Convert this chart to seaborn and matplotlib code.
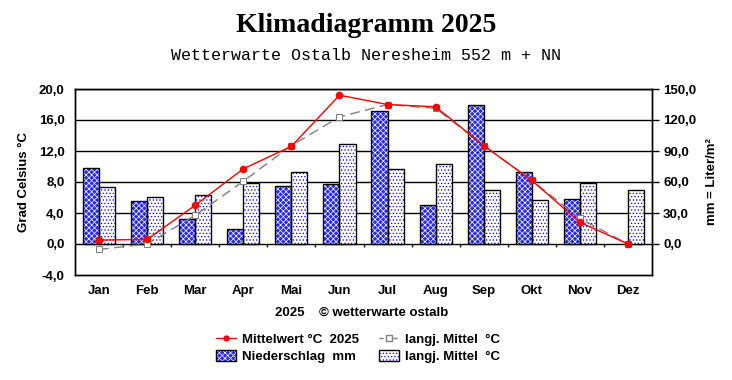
import numpy as np
import pandas as pd
import matplotlib
matplotlib.use("Agg")
import matplotlib.pyplot as plt
import seaborn as sns
from matplotlib.patches import Rectangle, Patch
from matplotlib.lines import Line2D
from matplotlib.legend_handler import HandlerTuple
from matplotlib.ticker import FuncFormatter

# %%
# Data
months = ["Jan", "Feb", "Mar", "Apr", "Mai", "Jun", "Jul", "Aug", "Sep", "Okt", "Nov", "Dez"]
temp_2025 = [0.5, 0.6, 5.0, 9.7, 12.6, 19.2, 18.0, 17.7, 12.7, 8.2, 2.8, 0.0]
temp_longterm = [-0.7, 0.0, 3.7, 8.1, 12.7, 16.4, 18.0, 17.5, 12.7, 8.2, 3.3, 0.0]
precip_2025 = [73.4, 41.4, 24.0, 14.2, 56.0, 57.9, 128.7, 37.5, 134.8, 69.5, 43.6, 0.0]
precip_longterm = [55.0, 45.3, 47.2, 59.5, 69.5, 96.7, 72.4, 77.3, 52.1, 42.4, 59.5, 52.4]

# %%
# Long format table for seaborn
bars = pd.DataFrame({
    "Monat": months * 2,
    "mm": precip_2025 + precip_longterm,
    "Reihe": ["Niederschlag"] * 12 + ["langj"] * 12,
})

sns.set_style("white")
plt.rcParams["font.family"] = ["Liberation Sans", "DejaVu Sans"]
plt.rcParams["hatch.linewidth"] = 0.5
for k in ("text.color", "axes.labelcolor", "xtick.color", "ytick.color", "axes.edgecolor"):
    plt.rcParams[k] = "black"

fig = plt.figure(figsize=(7.32, 3.80), dpi=100)
ax = fig.add_axes([75 / 732, 1 - 275 / 380, 577 / 732, 186 / 380])
ax2 = ax.twinx()

blue = "#0000ff"
dark_face = "#2828ee"
dark_hatch = "xxxxxx"
dot_hatch = "....."

# %%
# Precipitation bars on right axis
sns.barplot(data=bars, x="Monat", y="mm", hue="Reihe", ax=ax2, width=0.67,
            palette=[dark_face, "white"], legend=False, saturation=1, zorder=2)

for i, cont in enumerate(ax2.containers):
    for p in cont.patches:
        if i == 0:
            p.set_hatch(dark_hatch)
            p.set_edgecolor("white")
        else:
            p.set_hatch(dot_hatch)
            p.set_edgecolor(blue)
        p.set_linewidth(0)
        if p.get_height() > 0:
            ax2.add_patch(Rectangle(p.get_xy(), p.get_width(), p.get_height(),
                                    fill=False, edgecolor="black", lw=1, zorder=3))

ax2.set_ylim(-30, 150)
ax2.set_yticks(np.arange(0, 151, 30))
ax2.yaxis.set_major_formatter(FuncFormatter(lambda v, _: f"{v:.1f}".replace(".", ",")))
ax2.yaxis.grid(True, color="black", lw=1)
ax2.set_axisbelow(True)
ax2.set_ylabel("mm = Liter/m²", fontsize=9.5, fontweight="bold", labelpad=7)
ax2.set_xlabel("")
ax2.tick_params(axis="y", right=True, length=5, width=1, direction="out", pad=3, labelsize=9.5)
for lab in ax2.get_yticklabels():
    lab.set_fontweight("bold")

# small separators hanging from zero line
ax2.vlines(np.arange(0.5, 11.5, 1), -3, 0, color="black", lw=1, zorder=1)

# %%
# Temperature lines on left axis
ax.set_zorder(ax2.get_zorder() + 1)
ax.patch.set_visible(False)
sns.lineplot(x=months, y=temp_longterm, ax=ax, color="#808080", lw=1, sort=False,
             marker="s", markersize=5, markerfacecolor="white", markeredgecolor="#808080",
             dashes=False, linestyle=(0, (7, 4)), zorder=4)
sns.lineplot(x=months, y=temp_2025, ax=ax, color="#ff0000", lw=1, sort=False,
             marker="o", markersize=5.5, markeredgewidth=0, zorder=5)

ax.set_ylim(-4, 20)
ax.set_yticks(np.arange(-4, 21, 4))
ax.yaxis.set_major_formatter(FuncFormatter(lambda v, _: f"{v:.1f}".replace(".", ",")))
ax.set_xlim(-0.5, 11.5)
ax.set_ylabel("Grad Celsius °C", fontsize=9.5, fontweight="bold", labelpad=6)
ax.tick_params(axis="y", left=False, pad=4, labelsize=9.5)
ax.tick_params(axis="x", bottom=False, pad=4, labelsize=9.5)
for lab in ax.get_yticklabels() + ax.get_xticklabels():
    lab.set_fontweight("bold")

for a in (ax, ax2):
    for s in a.spines.values():
        s.set_color("black")
        s.set_linewidth(1)

# %%
# Titles and footer
fig.text(0.5, 1 - 25 / 380, "Klimadiagramm 2025", ha="center", va="center",
         fontsize=20, fontweight="bold", family="Liberation Serif")
fig.text(0.5, 1 - 56 / 380, "Wetterwarte Ostalb Neresheim 552 m + NN", ha="center",
         va="center", fontsize=12, family="Liberation Mono")
fig.text(362 / 732, 1 - 313 / 380, "2025    © wetterwarte ostalb", ha="center",
         va="center", fontsize=9.5, fontweight="bold")

outline = dict(facecolor="none", edgecolor="black", lw=1)
handles = [
    Line2D([], [], color="#ff0000", lw=1, marker="o", markersize=4.5, markeredgewidth=0),
    (Patch(facecolor=dark_face, edgecolor="white", hatch=dark_hatch, lw=0), Patch(**outline)),
    Line2D([], [], color="#808080", lw=1, linestyle=(0, (3, 2)), marker="s", markersize=4,
           markerfacecolor="white"),
    (Patch(facecolor="white", edgecolor=blue, hatch=dot_hatch, lw=0), Patch(**outline)),
]
labels = ["Mittelwert °C  2025", "Niederschlag  mm", "langj. Mittel  °C", "langj. Mittel  °C"]
fig.legend(handles, labels, ncol=2, loc="center", bbox_to_anchor=(358 / 732, 1 - 348 / 380),
           frameon=False, prop={"weight": "bold", "size": 9.5}, handlelength=1.5,
           handleheight=1.0, columnspacing=1.5, labelspacing=0.25, handletextpad=0.45,
           handler_map={tuple: HandlerTuple(ndivide=1)})

fig.savefig("out.png", dpi=100, facecolor="white")
